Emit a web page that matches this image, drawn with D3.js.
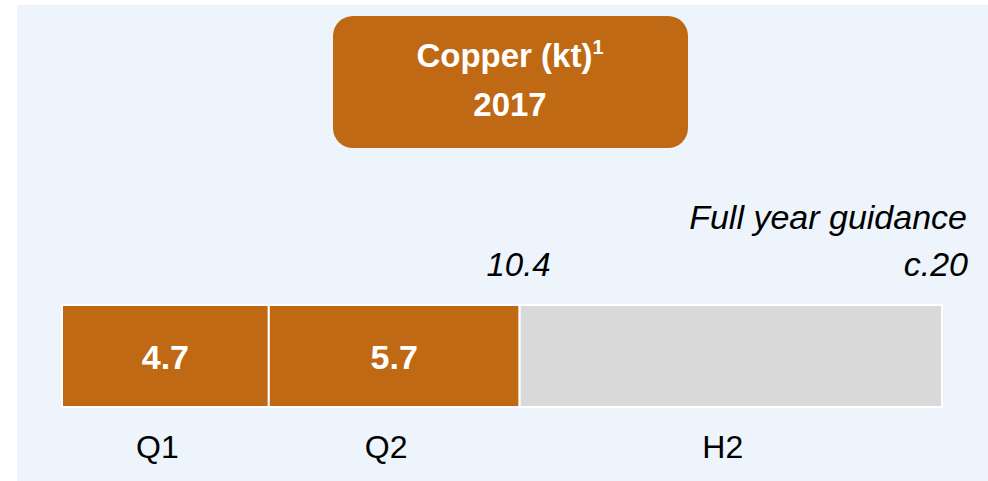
<!DOCTYPE html>
<html>
<head>
<meta charset="utf-8">
<script src="https://cdn.jsdelivr.net/npm/d3@7"></script>
<style>
  html, body { margin: 0; padding: 0; background: #ffffff; }
  svg { display: block; font-family: "Liberation Sans", Arial, sans-serif; }
</style>
</head>
<body>
<svg id="chart" width="988" height="481"></svg>
<script>
// Data
const categories = ["Q1", "Q2", "H2"];
const values = [4.7, 5.7, 9.6];            // H2 = remainder to full-year guidance
const valueLabels = ["4.7", "5.7", ""];
const actualTotal = 10.4;
const guidanceTotal = 20;
const guidanceLabel = "c.20";
const guidanceTitle = "Full year guidance";
const titleLines = ["Copper (kt)", "2017"];
const titleSup = "1";

const orange = "#BF6915";
const grey = "#D9D9D9";

const svg = d3.select("#chart");
const W = 988, H = 481;

// Background panel
svg.append("rect").attr("x", 17).attr("y", 5).attr("width", W - 17).attr("height", H - 5)
  .attr("fill", "#EDF4FC");

// Scale
const x = d3.scaleLinear().domain([0, guidanceTotal]).range([62, 942]);
const barY = 305, barH = 102;

// Stack
let acc = 0;
const segs = values.map((v, i) => {
  const s = { cat: categories[i], v, x0: acc, x1: acc + v, label: valueLabels[i], i };
  acc += v;
  return s;
});

const g = svg.append("g");
g.selectAll("rect.seg").data(segs).join("rect")
  .attr("class", "seg")
  .attr("x", d => x(d.x0))
  .attr("y", barY)
  .attr("width", d => x(d.x1) - x(d.x0))
  .attr("height", barH)
  .attr("fill", d => d.i < 2 ? orange : grey)
  .attr("stroke", "#ffffff")
  .attr("stroke-width", 2);

g.selectAll("text.val").data(segs.filter(d => d.label)).join("text")
  .attr("class", "val")
  .attr("x", d => (x(d.x0) + x(d.x1)) / 2)
  .attr("y", 369)
  .attr("text-anchor", "middle")
  .attr("fill", "#ffffff")
  .attr("font-weight", "bold")
  .attr("font-size", 34)
  .text(d => d.label);

g.selectAll("text.cat").data(segs).join("text")
  .attr("class", "cat")
  .attr("x", d => (x(d.x0) + x(d.x1)) / 2 - 8)
  .attr("y", 458)
  .attr("text-anchor", "middle")
  .attr("fill", "#000000")
  .attr("font-size", 32)
  .text(d => d.cat);

// Annotations
svg.append("text")
  .attr("x", x(actualTotal) - 1).attr("y", 276)
  .attr("text-anchor", "middle").attr("font-style", "italic").attr("font-size", 33)
  .attr("fill", "#000").text(actualTotal.toFixed(1));

svg.append("text")
  .attr("x", x(guidanceTotal) + 26).attr("y", 276)
  .attr("text-anchor", "end").attr("font-style", "italic").attr("font-size", 34)
  .attr("fill", "#000").text(guidanceLabel);

svg.append("text")
  .attr("x", x(guidanceTotal) + 25).attr("y", 229)
  .attr("text-anchor", "end").attr("font-style", "italic").attr("font-size", 34)
  .attr("fill", "#000").text(guidanceTitle);

// Title box
svg.append("rect").attr("x", 333).attr("y", 16).attr("width", 355).attr("height", 132)
  .attr("rx", 20).attr("ry", 20).attr("fill", orange);

const t1 = svg.append("text").attr("x", 510).attr("y", 67)
  .attr("text-anchor", "middle").attr("fill", "#fff")
  .attr("font-weight", "bold").attr("font-size", 33);
t1.append("tspan").text(titleLines[0]);
t1.append("tspan").attr("font-size", 20).attr("dy", -13).text(titleSup);

svg.append("text").attr("x", 510).attr("y", 116)
  .attr("text-anchor", "middle").attr("fill", "#fff")
  .attr("font-weight", "bold").attr("font-size", 33)
  .text(titleLines[1]);
</script>
</body>
</html>
